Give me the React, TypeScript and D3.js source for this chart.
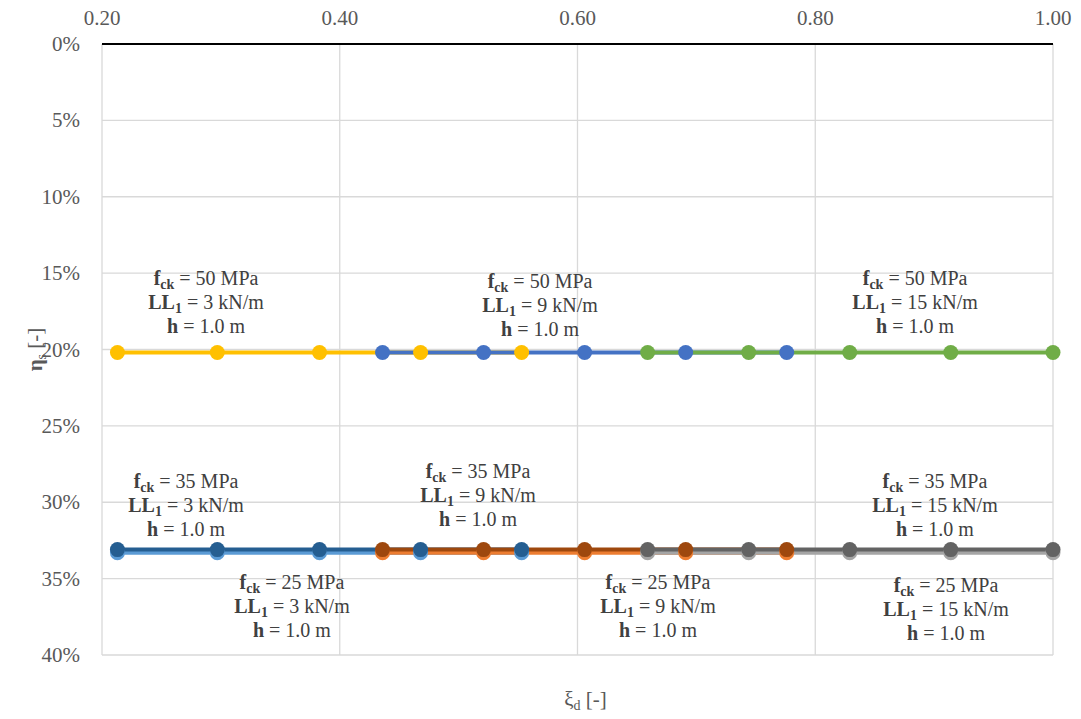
import React from "react";
import * as d3 from "d3";

// axis ticks
const xiTicks = [0.2, 0.4, 0.6, 0.8, 1.0];
const etaTicks = [0, 0.05, 0.1, 0.15, 0.2, 0.25, 0.3, 0.35, 0.4];

// xi_d values for each live load group
const xiLL3 = [0.213, 0.297, 0.383, 0.468, 0.553];
const xiLL9 = [0.436, 0.521, 0.606, 0.691, 0.776];
const xiLL15 = [0.659, 0.744, 0.829, 0.914, 1.0];

// eta_s values for each concrete class
const eta50 = [0.202, 0.202, 0.202, 0.202, 0.202];
const eta35 = [0.331, 0.331, 0.331, 0.331, 0.331];
const eta25 = [0.333, 0.333, 0.333, 0.333, 0.333];

// series, in drawing order
const seriesFck = [50, 50, 50, 25, 35, 25, 35, 25, 35];
const seriesLL = [3, 9, 15, 3, 3, 9, 9, 15, 15];
const seriesColors = ["#FFC000", "#4472C4", "#70AD47", "#5B9BD5", "#255E91", "#ED7D31", "#9E480E", "#A5A5A5", "#636363"];

// text annotations (anchor in data units)
const noteFck = [50, 50, 50, 35, 35, 35, 25, 25, 25];
const noteLL = [3, 9, 15, 3, 9, 15, 3, 9, 15];
const noteXi = [0.2875, 0.5685, 0.884, 0.2707, 0.5163, 0.9007, 0.3598, 0.6677, 0.910];
const noteEta = [0.154, 0.156, 0.154, 0.287, 0.280, 0.287, 0.353, 0.353, 0.355];

const W = 1081;
const H = 719;
const left = 102;
const right = 1053;
const top = 44;
const bottom = 655;

const font = "Times New Roman";

const xsFor = (ll: number) => (ll === 3 ? xiLL3 : ll === 9 ? xiLL9 : xiLL15);
const ysFor = (fck: number) => (fck === 50 ? eta50 : fck === 35 ? eta35 : eta25);

export default function App() {
  const x = d3.scaleLinear().domain([0.2, 1.0]).range([left, right]);
  const y = d3.scaleLinear().domain([0, 0.4]).range([top, bottom]);
  const pct = d3.format(".0%");
  const dec = d3.format(".2f");

  const series = seriesFck.map((fck, i) => {
    const xs = xsFor(seriesLL[i]);
    const ys = ysFor(fck);
    return { color: seriesColors[i], pts: xs.map((v, j) => [v, ys[j]] as [number, number]) };
  });

  const line = d3
    .line<[number, number]>()
    .x((d) => x(d[0]))
    .y((d) => y(d[1]));

  return (
    <svg width={W} height={H} fontFamily={font} style={{ position: "absolute", left: 0, top: 0 }}>
      <rect width={W} height={H} fill="#fff" />
      {/* gridlines */}
      {etaTicks.slice(1).map((t) => (
        <line key={"h" + t} x1={left} x2={right} y1={y(t)} y2={y(t)} stroke="#D9D9D9" strokeWidth={1.3} />
      ))}
      {xiTicks.map((t) => (
        <line key={"v" + t} x1={x(t)} x2={x(t)} y1={top} y2={bottom} stroke="#D9D9D9" strokeWidth={1.3} />
      ))}
      {/* top axis line */}
      <line x1={left} x2={right} y1={top} y2={top} stroke="#000" strokeWidth={2} />
      {xiTicks.map((t) => (
        <text key={"xl" + t} x={x(t)} y={25} textAnchor="middle" fontFamily={font} fontSize={21} fill="#595959">
          {dec(t)}
        </text>
      ))}
      {etaTicks.map((t) => (
        <text key={"yl" + t} x={80} y={y(t) + 7} textAnchor="end" fontFamily={font} fontSize={21} fill="#595959">
          {pct(t)}
        </text>
      ))}
      {/* axis titles */}
      <g transform={`translate(36,${(top + bottom) / 2}) rotate(-90)`}>
        <text x={0} y={6} textAnchor="middle" fontFamily={font} fontSize={21} fill="#595959">
          <tspan fontWeight="bold">η</tspan>
          <tspan fontSize={14} dy={4}>s</tspan>
          <tspan dy={-4}> [-]</tspan>
        </text>
      </g>
      <text x={(left + right) / 2 + 8} y={706} textAnchor="middle" fontFamily={font} fontSize={21} fill="#595959">
        <tspan>ξ</tspan>
        <tspan fontSize={14} dy={4}>d</tspan>
        <tspan dy={-4}> [-]</tspan>
      </text>
      {/* lines */}
      {series.map((s, i) => (
        <path key={"l" + i} d={line(s.pts) || ""} fill="none" stroke={s.color} strokeWidth={4} />
      ))}
      {/* markers */}
      {series.map((s, i) =>
        s.pts.map((p, j) => <circle key={"m" + i + "-" + j} cx={x(p[0])} cy={y(p[1])} r={7.5} fill={s.color} />)
      )}
      {/* annotations */}
      {noteFck.map((fck, i) => {
        const cx = x(noteXi[i]);
        const cy = y(noteEta[i]) + 6;
        return (
          <g key={"n" + i} fontSize={20} fill="#404040">
            <text x={cx} y={cy} textAnchor="middle" fontFamily={font}>
              <tspan fontWeight="bold">f</tspan>
              <tspan fontWeight="bold" fontSize={14} dy={4}>ck</tspan>
              <tspan dy={-4}> = {fck} MPa</tspan>
            </text>
            <text x={cx} y={cy + 24} textAnchor="middle" fontFamily={font}>
              <tspan fontWeight="bold">LL</tspan>
              <tspan fontWeight="bold" fontSize={14} dy={4}>1</tspan>
              <tspan dy={-4}> = {noteLL[i]} kN/m</tspan>
            </text>
            <text x={cx} y={cy + 48} textAnchor="middle" fontFamily={font}>
              <tspan fontWeight="bold">h</tspan>
              <tspan> = 1.0 m</tspan>
            </text>
          </g>
        );
      })}
    </svg>
  );
}
